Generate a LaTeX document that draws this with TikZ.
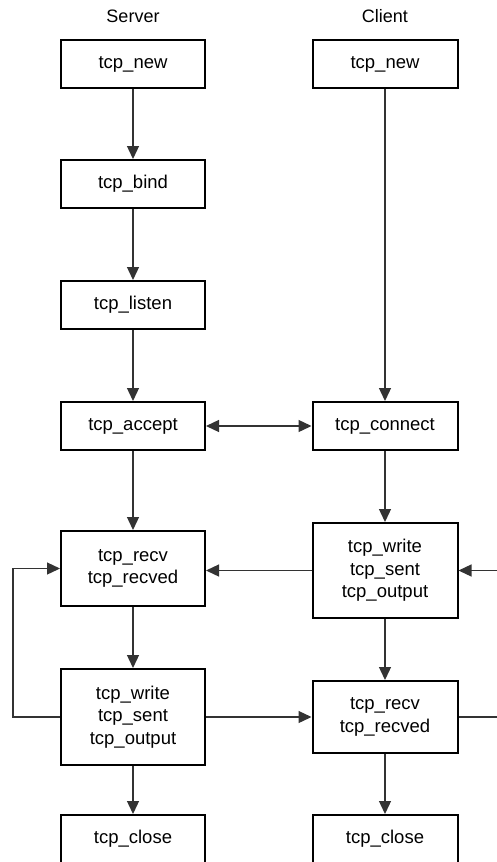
\documentclass[tikz,border=0pt]{standalone}
\usepackage{fontspec}
\setmainfont{Liberation Sans}
\usetikzlibrary{arrows.meta}
\begin{document}
\begin{tikzpicture}[x=1pt,y=-1pt,
  box/.style={draw=black,line width=2pt,fill=white,minimum width=144pt,inner sep=0pt,
    align=center,font=\fontsize{18.5}{22.3}\selectfont},
  lbl/.style={font=\fontsize{18}{21}\selectfont},
  arr/.style={draw=black!80,line width=1.3pt,-{Triangle[length=13pt,width=12pt]}},
  ln/.style={draw=black!80,line width=1.3pt}]
\useasboundingbox (0,0) rectangle (496,862);
\node[lbl] (server) at (133,16) {Server};
\node[lbl] (client) at (385,16) {Client};
\node[box,minimum height=48pt] (snew) at (133,64) {tcp\_new};
\node[box,minimum height=48pt] (sbind) at (133,184) {tcp\_bind};
\node[box,minimum height=48pt] (slisten) at (133,305) {tcp\_listen};
\node[box,minimum height=48pt] (saccept) at (133,426) {tcp\_accept};
\node[box,minimum height=75pt] (srecv) at (133,568.5) {tcp\_recv\\tcp\_recved};
\node[box,minimum height=96pt] (swrite) at (133,717) {tcp\_write\\tcp\_sent\\tcp\_output};
\node[box,minimum height=48pt] (sclose) at (133,839) {tcp\_close};
\node[box,minimum width=145pt,minimum height=48pt] (cnew) at (385,64) {tcp\_new};
\node[box,minimum width=145pt,minimum height=48pt] (cconnect) at (385,426) {tcp\_connect};
\node[box,minimum width=145pt,minimum height=95pt] (cwrite) at (385,570.5) {tcp\_write\\tcp\_sent\\tcp\_output};
\node[box,minimum width=145pt,minimum height=72pt] (crecv) at (385,717) {tcp\_recv\\tcp\_recved};
\node[box,minimum width=145pt,minimum height=48pt] (cclose) at (385,839) {tcp\_close};
\coordinate (lloop) at (13,717);
\coordinate (rin) at (500,570.5);
\coordinate (rout) at (500,717);
\draw[arr] (snew) -- (sbind);
\draw[arr] (sbind) -- (slisten);
\draw[arr] (slisten) -- (saccept);
\draw[arr] (saccept) -- (srecv);
\draw[arr] (srecv) -- (swrite);
\draw[arr] (swrite) -- (sclose);
\draw[arr] (cnew) -- (cconnect);
\draw[arr] (cconnect) -- (cwrite);
\draw[arr] (cwrite) -- (crecv);
\draw[arr] (crecv) -- (cclose);
\draw[arr,{Triangle[length=13pt,width=12pt]}-{Triangle[length=13pt,width=12pt]}] (saccept) -- (cconnect);
\draw[arr] (cwrite.west) -- (cwrite.west -| srecv.east);
\draw[arr] (swrite) -- (crecv);
\draw[arr] (swrite.west) -- (lloop) |- (srecv.west);
\draw[arr] (rin) -- (cwrite.east);
\draw[ln] (crecv.east) -- (rout);
\end{tikzpicture}
\end{document}
